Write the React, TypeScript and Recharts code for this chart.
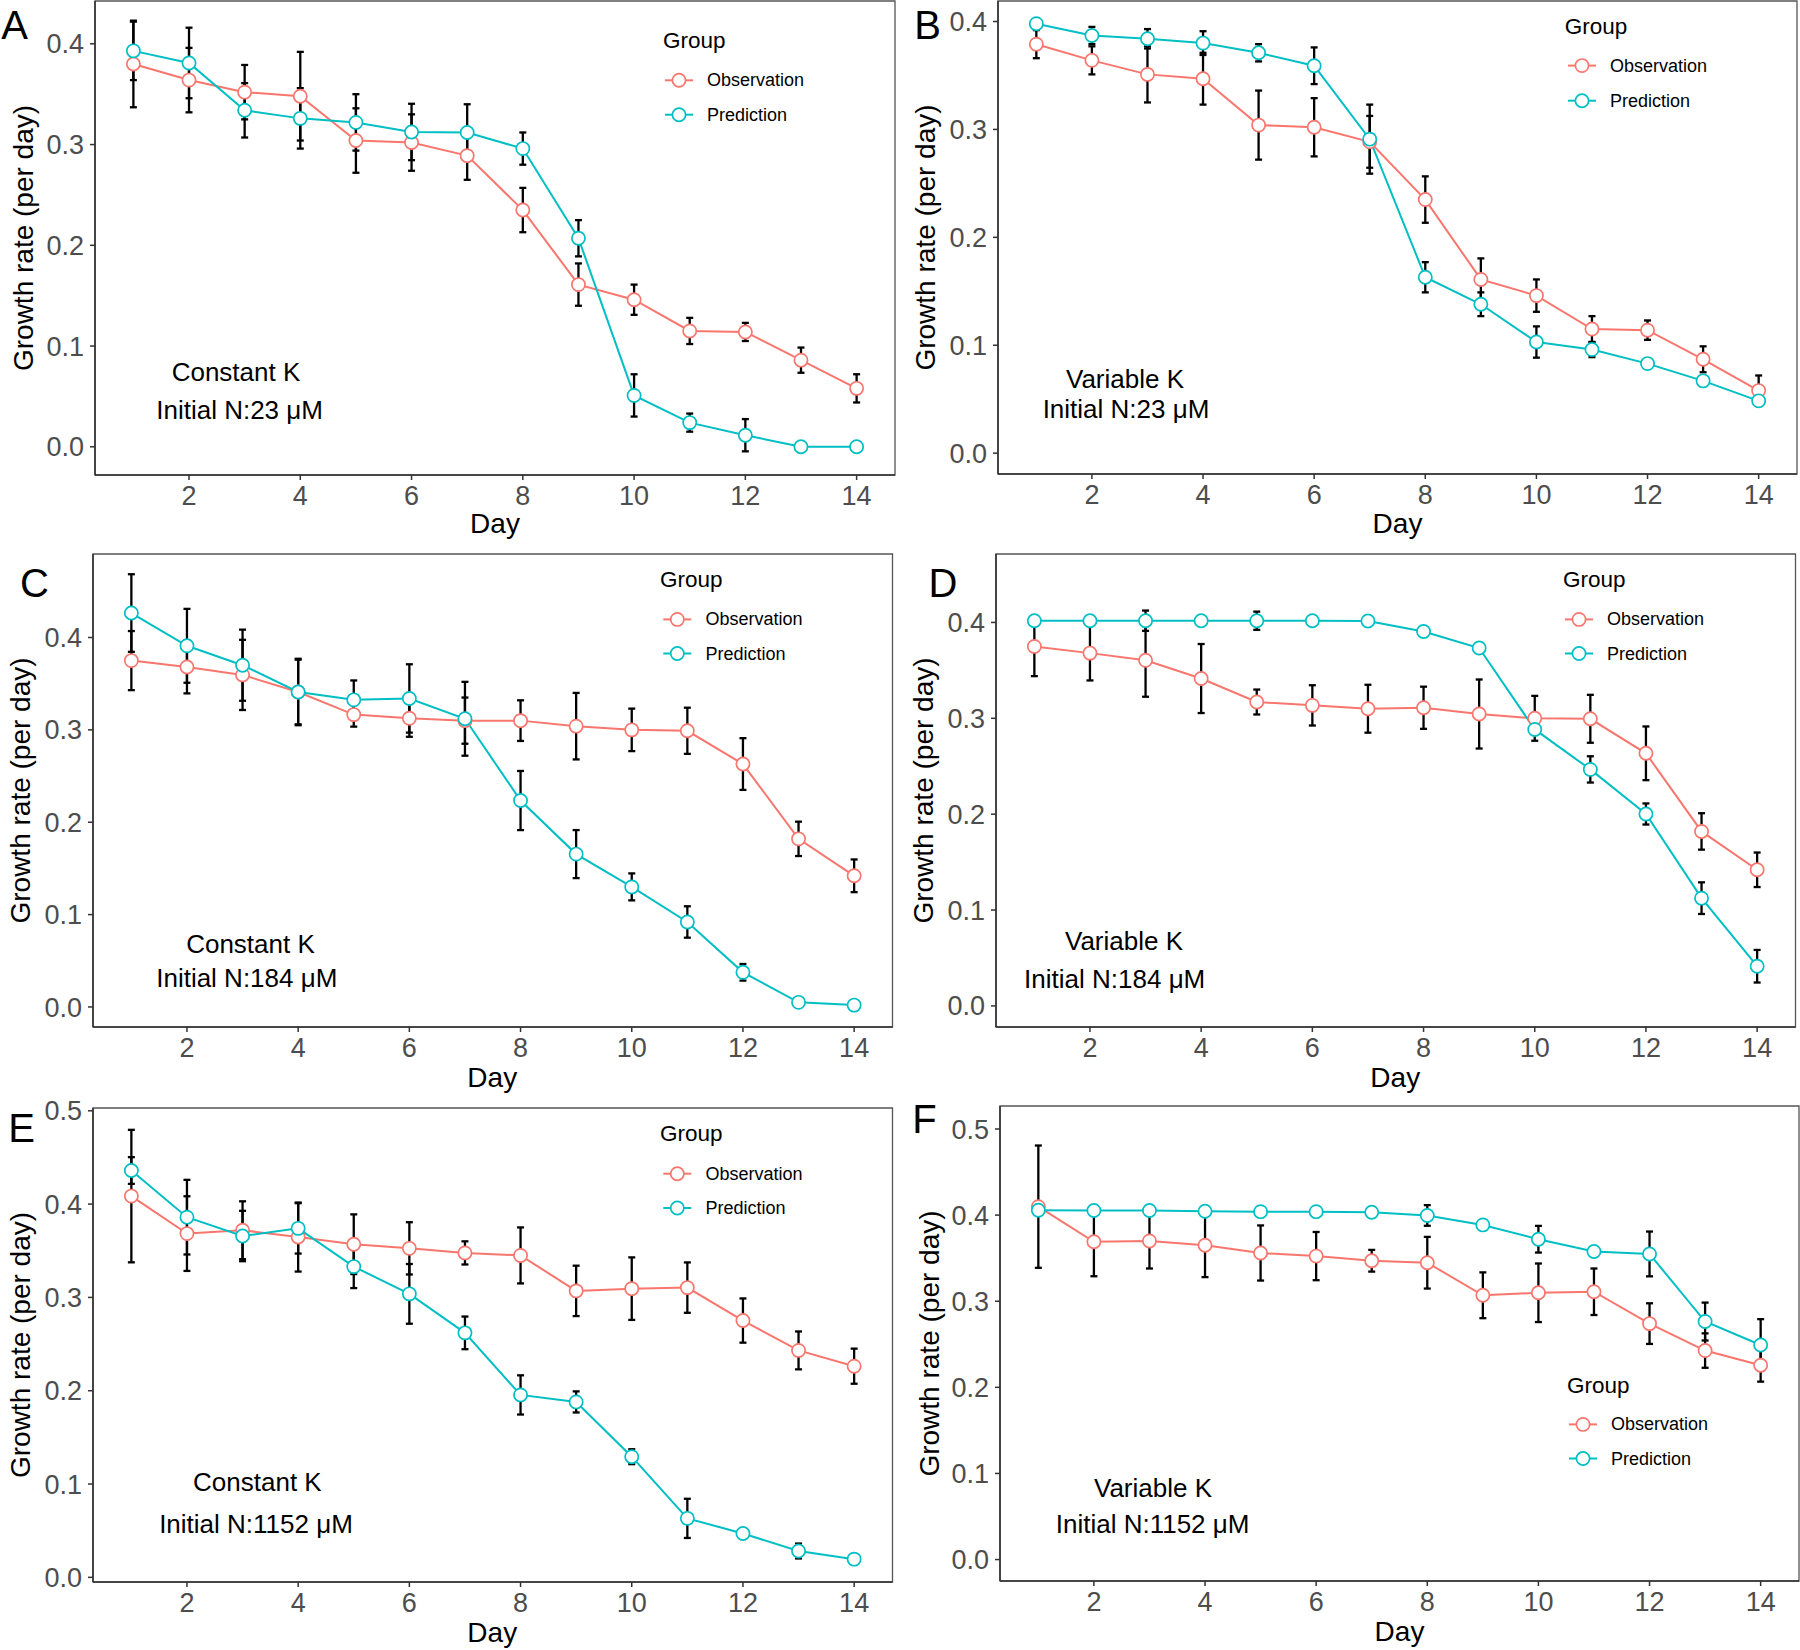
import React from 'react';
import { LineChart, Line, XAxis, YAxis, ErrorBar, ReferenceArea } from 'recharts';

// ---------- data ----------
const days = [1, 2, 3, 4, 5, 6, 7, 8, 9, 10, 11, 12, 13, 14];
const xTicks = [2, 4, 6, 8, 10, 12, 14];
const yTicks04 = [0, 0.1, 0.2, 0.3, 0.4];
const yTicks05 = [0, 0.1, 0.2, 0.3, 0.4, 0.5];
const seriesNames = ['Observation', 'Prediction'];

// Panel A: Constant K, 23 uM
const obsA = [0.380, 0.364, 0.352, 0.348, 0.304, 0.302, 0.289, 0.235, 0.161, 0.146, 0.115, 0.114, 0.086, 0.058];
const obsErrA = [0.043, 0.032, 0.027, 0.044, 0.032, 0.028, 0.024, 0.022, 0.021, 0.015, 0.013, 0.009, 0.0125, 0.014];
const predA = [0.393, 0.381, 0.334, 0.326, 0.322, 0.3125, 0.312, 0.296, 0.207, 0.051, 0.024, 0.0115, 0.0, 0.0];
const predErrA = [0.029, 0.035, 0.027, 0.030, 0.028, 0.028, 0.028, 0.016, 0.018, 0.021, 0.009, 0.016, 0, 0];

// Panel B: Variable K, 23 uM
const obsB = [0.379, 0.364, 0.351, 0.347, 0.304, 0.302, 0.2885, 0.235, 0.161, 0.146, 0.115, 0.114, 0.087, 0.058];
const obsErrB = [0.013, 0.013, 0.026, 0.024, 0.032, 0.027, 0.024, 0.0215, 0.0195, 0.015, 0.012, 0.009, 0.012, 0.014];
const predB = [0.398, 0.387, 0.384, 0.380, 0.371, 0.359, 0.291, 0.163, 0.138, 0.103, 0.096, 0.083, 0.067, 0.0485];
const predErrB = [0, 0.008, 0.009, 0.011, 0.008, 0.017, 0.032, 0.014, 0.011, 0.0145, 0.007, 0, 0, 0];

// Panel C: Constant K, 184 uM
const obsC = [0.375, 0.368, 0.3595, 0.341, 0.3165, 0.3125, 0.310, 0.310, 0.304, 0.300, 0.299, 0.263, 0.182, 0.142];
const obsErrC = [0.032, 0.0285, 0.038, 0.036, 0.013, 0.020, 0.025, 0.022, 0.036, 0.023, 0.025, 0.028, 0.0186, 0.0177];
const predC = [0.4265, 0.391, 0.370, 0.341, 0.3325, 0.334, 0.312, 0.2235, 0.1655, 0.130, 0.092, 0.0375, 0.005, 0.002];
const predErrC = [0.042, 0.040, 0.0385, 0.035, 0.021, 0.037, 0.040, 0.032, 0.026, 0.0146, 0.017, 0.009, 0, 0];

// Panel D: Variable K, 184 uM
const obsD = [0.375, 0.368, 0.3605, 0.3415, 0.317, 0.3135, 0.310, 0.311, 0.3045, 0.300, 0.2995, 0.2635, 0.182, 0.142];
const obsErrD = [0.031, 0.0285, 0.038, 0.036, 0.013, 0.021, 0.025, 0.022, 0.036, 0.0234, 0.025, 0.028, 0.019, 0.018];
const predD = [0.4018, 0.4018, 0.4018, 0.4018, 0.4018, 0.4018, 0.4015, 0.3905, 0.3733, 0.2884, 0.2467, 0.2002, 0.1124, 0.0414];
const predErrD = [0, 0, 0.0106, 0, 0.0095, 0, 0, 0, 0, 0, 0.0137, 0.011, 0.0165, 0.017];

// Panel E: Constant K, 1152 uM
const obsE = [0.4086, 0.3684, 0.372, 0.3647, 0.357, 0.3526, 0.3477, 0.345, 0.307, 0.3094, 0.3105, 0.2752, 0.2432, 0.2263];
const obsErrE = [0.071, 0.040, 0.031, 0.037, 0.032, 0.028, 0.0124, 0.030, 0.027, 0.0335, 0.027, 0.0237, 0.0203, 0.0188];
const predE = [0.436, 0.386, 0.3658, 0.374, 0.333, 0.3038, 0.262, 0.1955, 0.188, 0.1293, 0.0632, 0.047, 0.0282, 0.0195];
const predErrE = [0.0143, 0.040, 0.027, 0.027, 0.023, 0.032, 0.0175, 0.021, 0.0113, 0.008, 0.021, 0, 0.008, 0];

// Panel F: Variable K, 1152 uM
const obsF = [0.4098, 0.369, 0.370, 0.365, 0.356, 0.3524, 0.347, 0.3447, 0.3069, 0.3098, 0.311, 0.274, 0.2427, 0.2256];
const obsErrF = [0.071, 0.040, 0.032, 0.037, 0.032, 0.028, 0.0126, 0.030, 0.0266, 0.034, 0.027, 0.0236, 0.020, 0.019];
const predF = [0.4057, 0.4053, 0.4053, 0.4045, 0.404, 0.404, 0.4033, 0.3996, 0.3886, 0.372, 0.3577, 0.3549, 0.2764, 0.2492];
const predErrF = [0, 0, 0, 0, 0, 0, 0, 0.012, 0, 0.0155, 0, 0.026, 0.022, 0.03];

// ---------- style ----------
const FONT = '"Liberation Sans", Arial, Helvetica, sans-serif';
const RED = '#F8766D';
const CYAN = '#00BFC4';
const xDomain: [number, number] = [0.31, 14.69];

type Layout = {
  rect: { l: number; t: number; r: number; b: number };
  letter: [number, number];
  yTitleX: number;
  xTitleY: number;
  ann1: [number, number];
  ann2: [number, number];
  legend: { titleX: number; titleY: number; markerX: number; textX: number; rowY: [number, number] };
};

type Panel = {
  id: string;
  obs: number[];
  obsErr: number[];
  pred: number[];
  predErr: number[];
  yDomain: [number, number];
  yTicks: number[];
  model: string;
  initN: string;
  layout: Layout;
};

const panels: Panel[] = [
  {
    id: 'A', obs: obsA, obsErr: obsErrA, pred: predA, predErr: predErrA,
    yDomain: [-0.028, 0.4425], yTicks: yTicks04, model: 'Constant K', initN: 'Initial N:23 μM',
    layout: {
      rect: { l: 95, t: 1, r: 895, b: 475 }, letter: [14.5, 24.5], yTitleX: 23.2, xTitleY: 523.5,
      ann1: [236, 372], ann2: [239.6, 410.4],
      legend: { titleX: 663, titleY: 40, markerX: 679, textX: 707, rowY: [80.3, 114.7] },
    },
  },
  {
    id: 'B', obs: obsB, obsErr: obsErrB, pred: predB, predErr: predErrB,
    yDomain: [-0.0193, 0.419], yTicks: yTicks04, model: 'Variable K', initN: 'Initial N:23 μM',
    layout: {
      rect: { l: 998, t: 1, r: 1797, b: 474 }, letter: [927.5, 24.7], yTitleX: 925, xTitleY: 523.5,
      ann1: [1125, 378.8], ann2: [1126, 408.6],
      legend: { titleX: 1564.7, titleY: 26, markerX: 1582, textX: 1610, rowY: [65.6, 100.7] },
    },
  },
  {
    id: 'C', obs: obsC, obsErr: obsErrC, pred: predC, predErr: predErrC,
    yDomain: [-0.0217, 0.4904], yTicks: yTicks04, model: 'Constant K', initN: 'Initial N:184 μM',
    layout: {
      rect: { l: 92.5, t: 554, r: 892, b: 1027 }, letter: [34.5, 583.3], yTitleX: 20.4, xTitleY: 1077,
      ann1: [250.5, 943.5], ann2: [246.8, 978],
      legend: { titleX: 660, titleY: 579.6, markerX: 677.3, textX: 705.4, rowY: [619.4, 653.5] },
    },
  },
  {
    id: 'D', obs: obsD, obsErr: obsErrD, pred: predD, predErr: predErrD,
    yDomain: [-0.022, 0.4714], yTicks: yTicks04, model: 'Variable K', initN: 'Initial N:184 μM',
    layout: {
      rect: { l: 995.5, t: 554, r: 1795, b: 1027 }, letter: [943, 583.3], yTitleX: 923.2, xTitleY: 1077,
      ann1: [1124, 941], ann2: [1114.7, 978.6],
      legend: { titleX: 1563, titleY: 579.6, markerX: 1579, textX: 1607, rowY: [619.4, 653.5] },
    },
  },
  {
    id: 'E', obs: obsE, obsErr: obsErrE, pred: predE, predErr: predErrE,
    yDomain: [-0.005, 0.503], yTicks: yTicks05, model: 'Constant K', initN: 'Initial N:1152 μM',
    layout: {
      rect: { l: 92.5, t: 1108, r: 892, b: 1582 }, letter: [21.5, 1128], yTitleX: 20.4, xTitleY: 1632.5,
      ann1: [257.4, 1482.3], ann2: [256, 1524.4],
      legend: { titleX: 660, titleY: 1133, markerX: 677.3, textX: 705.4, rowY: [1173.7, 1208] },
    },
  },
  {
    id: 'F', obs: obsF, obsErr: obsErrF, pred: predF, predErr: predErrF,
    yDomain: [-0.0249, 0.5267], yTicks: yTicks05, model: 'Variable K', initN: 'Initial N:1152 μM',
    layout: {
      rect: { l: 1000, t: 1106, r: 1799, b: 1581 }, letter: [924.4, 1119.3], yTitleX: 929, xTitleY: 1631.3,
      ann1: [1153, 1487.6], ann2: [1152.6, 1524.4],
      legend: { titleX: 1567, titleY: 1385, markerX: 1583, textX: 1611, rowY: [1424.4, 1458.5] },
    },
  },
];

const YW = 80;
const XH = 45;
const MT = 24;
const MR = 6;

function PanelChart({ p }: { p: Panel }) {
  const { l, t, r, b } = p.layout.rect;
  const width = r - l + YW + MR;
  const height = b - t + MT + XH;
  const data = days.map((d, i) => ({
    day: d,
    obs: p.obs[i],
    obsErr: p.obsErr[i],
    pred: p.pred[i],
    predErr: p.predErr[i],
  }));
  const tickStyle = { fill: '#4D4D4D', fontSize: 27, fontFamily: FONT };
  return (
    <div style={{ position: 'absolute', left: l - YW, top: t - MT, width, height }}>
      <LineChart width={width} height={height} data={data} margin={{ top: MT, right: MR, bottom: 0, left: 0 }}>
        <XAxis
          dataKey="day"
          type="number"
          domain={xDomain}
          ticks={xTicks}
          allowDataOverflow
          interval={0}
          height={XH}
          tickSize={5}
          tickMargin={6}
          tick={tickStyle}
          axisLine={{ stroke: '#333333', strokeWidth: 1.6 }}
          tickLine={{ stroke: '#333333', strokeWidth: 1.5 }}
        />
        <YAxis
          type="number"
          domain={p.yDomain}
          ticks={p.yTicks}
          allowDataOverflow
          interval={0}
          width={YW}
          tickSize={5}
          tickMargin={6}
          tick={tickStyle}
          tickFormatter={(v: number) => v.toFixed(1)}
          axisLine={{ stroke: '#333333', strokeWidth: 1.6 }}
          tickLine={{ stroke: '#333333', strokeWidth: 1.5 }}
        />
        <ReferenceArea
          x1={xDomain[0]}
          x2={xDomain[1]}
          y1={p.yDomain[0]}
          y2={p.yDomain[1]}
          fill="none"
          stroke="#555555"
          strokeWidth={1.3}
          ifOverflow="visible"
        />
        <Line dataKey="obs" stroke={RED} strokeWidth={2} dot={false} activeDot={false} isAnimationActive={false} legendType="none">
          <ErrorBar dataKey="obsErr" width={3.5} strokeWidth={2.3} stroke="#000000" direction="y" isAnimationActive={false} />
        </Line>
        <Line dataKey="pred" stroke={CYAN} strokeWidth={2} dot={false} activeDot={false} isAnimationActive={false} legendType="none">
          <ErrorBar dataKey="predErr" width={3.5} strokeWidth={2.3} stroke="#000000" direction="y" isAnimationActive={false} />
        </Line>
        <Line
          dataKey="obs"
          stroke="none"
          dot={{ r: 6.6, fill: '#ffffff', stroke: RED, strokeWidth: 1.7 }}
          activeDot={false}
          isAnimationActive={false}
          legendType="none"
        />
        <Line
          dataKey="pred"
          stroke="none"
          dot={{ r: 6.6, fill: '#ffffff', stroke: CYAN, strokeWidth: 1.7 }}
          activeDot={false}
          isAnimationActive={false}
          legendType="none"
        />
      </LineChart>
    </div>
  );
}

function Overlay() {
  return (
    <svg
      width={1800}
      height={1650}
      style={{ position: 'absolute', left: 0, top: 0, pointerEvents: 'none' }}
      fontFamily={FONT}
    >
      {panels.map((p) => {
        const L = p.layout;
        const cx = (L.rect.l + L.rect.r) / 2;
        const cy = (L.rect.t + L.rect.b) / 2;
        const colors = [RED, CYAN];
        return (
          <g key={p.id}>
            <text x={L.letter[0]} y={L.letter[1]} fontSize={40} textAnchor="middle" dominantBaseline="central" fill="#000">
              {p.id}
            </text>
            <text
              x={L.yTitleX}
              y={cy}
              fontSize={28}
              textAnchor="middle"
              dominantBaseline="central"
              transform={`rotate(-90 ${L.yTitleX} ${cy})`}
              fill="#000"
            >
              Growth rate (per day)
            </text>
            <text x={cx} y={L.xTitleY} fontSize={28} textAnchor="middle" dominantBaseline="central" fill="#000">
              Day
            </text>
            <text x={L.ann1[0]} y={L.ann1[1]} fontSize={26} textAnchor="middle" dominantBaseline="central" fill="#000">
              {p.model}
            </text>
            <text x={L.ann2[0]} y={L.ann2[1]} fontSize={26} textAnchor="middle" dominantBaseline="central" fill="#000">
              {p.initN}
            </text>
            <text x={L.legend.titleX} y={L.legend.titleY} fontSize={22.5} dominantBaseline="central" fill="#000">
              Group
            </text>
            {seriesNames.map((name, i) => (
              <g key={name}>
                <line
                  x1={L.legend.markerX - 14}
                  x2={L.legend.markerX + 14}
                  y1={L.legend.rowY[i]}
                  y2={L.legend.rowY[i]}
                  stroke={colors[i]}
                  strokeWidth={2}
                />
                <circle cx={L.legend.markerX} cy={L.legend.rowY[i]} r={6.6} fill="#fff" stroke={colors[i]} strokeWidth={1.7} />
                <text x={L.legend.textX} y={L.legend.rowY[i]} fontSize={18} dominantBaseline="central" fill="#000">
                  {name}
                </text>
              </g>
            ))}
          </g>
        );
      })}
    </svg>
  );
}

export default function App() {
  return (
    <div
      style={{
        position: 'absolute',
        left: 0,
        top: 0,
        width: 1800,
        height: 1650,
        overflow: 'hidden',
        background: '#ffffff',
        fontFamily: FONT,
      }}
    >
      {panels.map((p) => (
        <PanelChart key={p.id} p={p} />
      ))}
      <Overlay />
    </div>
  );
}
